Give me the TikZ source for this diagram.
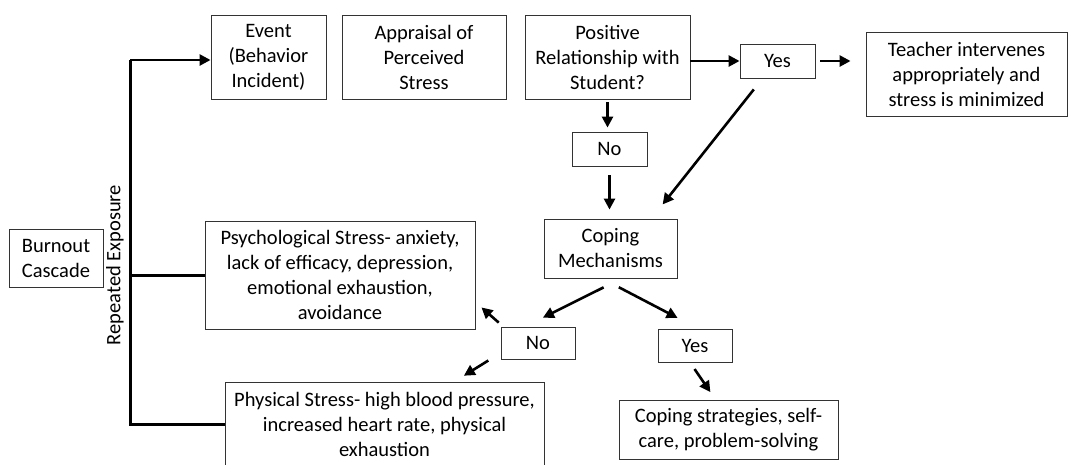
\documentclass[tikz,border=0pt]{standalone}
\usepackage{fontspec}
\setmainfont{Carlito}
\usetikzlibrary{arrows.meta}
\begin{document}
\begin{tikzpicture}[x=1pt, y=-1pt, font=\fontsize{20.5}{25}\selectfont,
    box/.style={draw=black!80, line width=0.9pt, align=center, inner sep=0pt},
    arr/.style={line width=2.6pt, -{Triangle[length=11pt,width=11pt]}},
    trunk/.style={line width=3pt}]
  \useasboundingbox (0,0) rectangle (1068,464);
  % top row
  \node[box, minimum width=115, minimum height=84] (event)     at (268.5,57)  {Event\\(Behavior\\Incident)};
  \node[box, minimum width=164, minimum height=84] (appraisal) at (424,57)    {Appraisal of\\Perceived\\Stress};
  \node[box, minimum width=165, minimum height=84] (positive)  at (607.5,57)  {Positive\\Relationship with\\Student?};
  \node[box, minimum width=75,  minimum height=34] (yesA)      at (777.5,61)  {Yes};
  \node[box, minimum width=201, minimum height=84] (teacher)   at (966.5,74)  {Teacher intervenes\\appropriately and\\stress is minimized};
  % middle
  \node[box, minimum width=75,  minimum height=34] (noA)       at (609.5,149) {No};
  \node[box, minimum width=133, minimum height=59] (coping)    at (610.5,248.5) {Coping\\Mechanisms};
  \node[box, minimum width=270, minimum height=108] (psych)    at (340,275)   {Psychological Stress- anxiety,\\lack of efficacy, depression,\\emotional exhaustion,\\avoidance};
  \node[box, minimum width=94,  minimum height=58] (burnout)   at (56,258)    {Burnout\\Cascade};
  % bottom
  \node[box, minimum width=74,  minimum height=32] (noB)       at (538,343)   {No};
  \node[box, minimum width=74,  minimum height=33] (yesB)      at (695,345.5) {Yes};
  \node[box, minimum width=319, minimum height=84] (physical)  at (384.5,424) {Physical Stress- high blood pressure,\\increased heart rate, physical\\exhaustion};
  \node[box, minimum width=219, minimum height=59] (strategies) at (728.5,429.5) {Coping strategies, self-\\care, problem-solving};
  % repeated exposure loop
  \coordinate (top) at (130,60);
  \node[rotate=90] (repeat) at (115,265) {Repeated Exposure};
  \draw[trunk, line join=miter] (physical.west) -| (top);
  \draw[arr] (top) -- (top -| event.west);
  \draw[trunk] (psych.west) -- (psych.west -| top);
  % arrows
  \draw[arr] (positive.east |- yesA) -- (yesA.west);
  \draw[arr, shorten <=5pt, shorten >=15pt] (yesA.east) -- (yesA.east -| teacher.west);
  \draw[arr, shorten <=3pt, shorten >=4pt] (positive.south) -- (positive.south |- noA.north);
  \draw[arr, shorten <=9pt, shorten >=9pt] (noA.south) -- (noA.south |- coping.north);
  \draw[arr, shorten <=14pt, shorten >=18pt] ([xshift=-15pt]yesA.south) -- ([xshift=-26pt]coping.north east);
  \draw[arr, shorten <=20pt, shorten >=20pt] ([xshift=11pt]coping.south) -- ([xshift=-13pt]noB.north);
  \draw[arr, shorten <=19pt, shorten >=23pt] ([xshift=-8.5pt]coping.south) -- ([xshift=3pt]yesB.north);
  \draw[arr, shorten <=6pt] ([xshift=2.7pt]noB.north west) -- ([xshift=6pt,yshift=22pt]psych.south east);
  \draw[arr, shorten <=2pt, shorten >=11pt] ([xshift=-48pt]noB.south) -- ([xshift=70pt]physical.north);
  \draw[arr, shorten <=8pt, shorten >=9pt] ([xshift=-5pt]yesB.south) -- ([xshift=-13pt]strategies.north);
\end{tikzpicture}
\end{document}
